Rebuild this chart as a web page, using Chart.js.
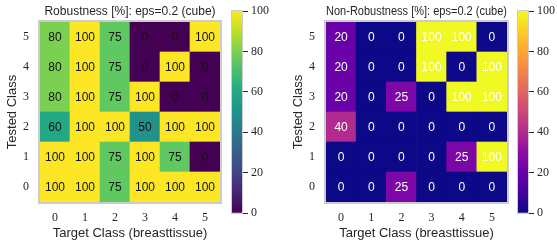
<!DOCTYPE html>
<html>
<head>
<meta charset="utf-8">
<script src="https://cdn.jsdelivr.net/npm/chart.js@4/dist/chart.umd.min.js"></script>
<style>
  body { margin: 0; background: #fff; }
  #wrap { position: relative; width: 557px; height: 241px; overflow: hidden; }
  canvas { position: absolute; top: 0; }
</style>
</head>
<body>
<div id="wrap">
  <canvas id="heatLeft" width="224" height="241" style="left:0px"></canvas>
  <canvas id="barLeft" width="56" height="241" style="left:224px"></canvas>
  <canvas id="heatRight" width="235" height="241" style="left:286px"></canvas>
  <canvas id="barRight" width="56" height="241" style="left:510px"></canvas>
</div>
<script>
// data, one row per tested class (0 at the bottom)
var targetClasses = ['0', '1', '2', '3', '4', '5'];
var testedClasses = ['0', '1', '2', '3', '4', '5'];
var colorbarTicks = [0, 20, 40, 60, 80, 100];

var robustness = [
    [100, 100, 75, 100, 100, 100],
    [100, 100, 75, 100, 75, 0],
    [60, 100, 100, 50, 100, 100],
    [80, 100, 75, 100, 0, 0],
    [80, 100, 75, 0, 100, 0],
    [80, 100, 75, 0, 0, 100]
];
var nonRobustness = [
    [0, 0, 25, 0, 0, 0],
    [0, 0, 0, 0, 25, 100],
    [40, 0, 0, 0, 0, 0],
    [20, 0, 25, 0, 100, 100],
    [20, 0, 0, 100, 0, 100],
    [20, 0, 0, 100, 100, 0]
];

var viridis = ['#440154', '#482475', '#414487', '#355f8d', '#2a788e', '#21918c',
    '#22a884', '#44bf70', '#7ad151', '#bddf26', '#fde725'];
var plasma = ['#0d0887', '#41049d', '#6a00a8', '#8f0da4', '#b12a90', '#cc4778',
    '#e16462', '#f2844b', '#fca636', '#fcce25', '#f0f921'];

var sansFont = "'Liberation Sans', sans-serif";
var serifFont = "'Liberation Serif', serif";
var textColor = '#262626';

function hexToRgb(h) {
    return [parseInt(h.substr(1, 2), 16), parseInt(h.substr(3, 2), 16), parseInt(h.substr(5, 2), 16)];
}

function cmap(stops, v) {
    var t = Math.max(0, Math.min(1, v / 100)) * (stops.length - 1);
    var i = Math.min(Math.floor(t), stops.length - 2);
    var f = t - i;
    var a = hexToRgb(stops[i]), b = hexToRgb(stops[i + 1]);
    var c = a.map(function (x, k) { return Math.round(x + (b[k] - x) * f); });
    return 'rgb(' + c.join(',') + ')';
}

// cell numbers and grey frame
var cellPlugin = {
    id: 'cells',
    afterDatasetsDraw: function (chart, args, opts) {
        var ctx = chart.ctx;
        ctx.save();
        ctx.font = '12px ' + sansFont;
        ctx.fillStyle = opts.color;
        ctx.textAlign = 'center';
        ctx.textBaseline = 'middle';
        chart.data.datasets.forEach(function (ds, i) {
            chart.getDatasetMeta(i).data.forEach(function (bar, j) {
                ctx.fillText(String(ds.values[j]), bar.x, (bar.y + bar.base) / 2 + 0.5);
            });
        });
        var a = chart.chartArea;
        ctx.strokeStyle = '#cccccc';
        ctx.lineWidth = opts.frame;
        ctx.strokeRect(a.left - opts.frame / 2, a.top - opts.frame / 2,
            a.right - a.left + opts.frame, a.bottom - a.top + opts.frame);
        ctx.restore();
    }
};

function dibujarHeatmap(id, rows, stops, title, textCol) {
    new Chart(document.getElementById(id), {
        type: 'bar',
        data: {
            labels: targetClasses,
            datasets: testedClasses.map(function (c, i) {
                return {
                    label: c,
                    values: rows[i],
                    data: targetClasses.map(function () { return 1; }),
                    backgroundColor: rows[i].map(function (v) { return cmap(stops, v); }),
                    barPercentage: 1,
                    categoryPercentage: 1,
                    borderWidth: 0
                };
            })
        },
        options: {
            responsive: false,
            animation: false,
            layout: { padding: { left: 0, right: id === 'heatLeft' ? 4 : 14, top: 0, bottom: 0 } },
            plugins: {
                legend: { display: false },
                tooltip: { enabled: false },
                title: {
                    display: true,
                    text: title,
                    fullSize: false,
                    color: textColor,
                    font: { family: sansFont, size: 12, weight: 'normal', lineHeight: '14px' },
                    padding: { top: 5, bottom: 3 }
                },
                cells: { color: textCol, frame: 2 }
            },
            scales: {
                x: {
                    stacked: true,
                    grid: { display: false, drawTicks: false },
                    border: { display: false },
                    ticks: { color: textColor, font: { family: serifFont, size: 12 }, padding: 9 },
                    title: {
                        display: true,
                        text: 'Target Class (breasttissue)',
                        color: textColor,
                        font: { family: sansFont, size: 13, lineHeight: 1.2 },
                        padding: { top: 0, bottom: 0 }
                    },
                    afterFit: function (scale) { scale.height = 39; }
                },
                y: {
                    stacked: true,
                    min: 0,
                    max: 6,
                    grid: { display: false, drawTicks: false },
                    border: { display: false },
                    afterBuildTicks: function (scale) {
                        scale.ticks = testedClasses.map(function (c, i) { return { value: i + 0.5 }; });
                    },
                    ticks: {
                        color: textColor,
                        font: { family: serifFont, size: 12 },
                        padding: 11,
                        callback: function (v) { return testedClasses[Math.floor(v)]; }
                    },
                    title: {
                        display: true,
                        text: 'Tested Class',
                        color: textColor,
                        font: { family: sansFont, size: 13, lineHeight: 1.2 },
                        padding: { top: 5, bottom: 0 }
                    },
                    afterFit: function (scale) { scale.width = 40; }
                }
            }
        },
        plugins: [cellPlugin]
    });
}

var outlinePlugin = {
    id: 'outline',
    afterDatasetsDraw: function (chart) {
        var a = chart.chartArea, ctx = chart.ctx;
        ctx.save();
        ctx.strokeStyle = '#cccccc';
        ctx.lineWidth = 1;
        ctx.strokeRect(a.left - 0.5, a.top - 0.5, a.right - a.left + 1, a.bottom - a.top + 1);
        ctx.restore();
    }
};

function dibujarColorbar(id, stops) {
    new Chart(document.getElementById(id), {
        type: 'bar',
        data: {
            labels: [''],
            datasets: [{
                data: [colorbarTicks[colorbarTicks.length - 1]],
                barPercentage: 1,
                categoryPercentage: 1,
                borderWidth: 0,
                backgroundColor: function (context) {
                    var area = context.chart.chartArea;
                    if (!area) return stops[0];
                    var g = context.chart.ctx.createLinearGradient(0, area.bottom, 0, area.top);
                    stops.forEach(function (c, k) { g.addColorStop(k / (stops.length - 1), c); });
                    return g;
                }
            }]
        },
        options: {
            responsive: false,
            animation: false,
            layout: { padding: { left: 8, right: 0, top: 11, bottom: 28 } },
            plugins: { legend: { display: false }, tooltip: { enabled: false } },
            scales: {
                x: { display: false },
                y: {
                    position: 'right',
                    min: colorbarTicks[0],
                    max: colorbarTicks[colorbarTicks.length - 1],
                    afterBuildTicks: function (scale) {
                        scale.ticks = colorbarTicks.map(function (v) { return { value: v }; });
                    },
                    grid: { drawOnChartArea: false, drawTicks: true, tickLength: 6, color: textColor, lineWidth: 1 },
                    border: { display: false },
                    ticks: { color: textColor, font: { family: serifFont, size: 12 }, padding: 3 },
                    afterFit: function (scale) { scale.width = 38; }
                }
            }
        },
        plugins: [outlinePlugin]
    });
}

dibujarHeatmap('heatLeft', robustness, viridis, 'Robustness [%]: eps=0.2 (cube)', '#111111');
dibujarColorbar('barLeft', viridis);
dibujarHeatmap('heatRight', nonRobustness, plasma, 'Non-Robustness [%]: eps=0.2 (cube)', '#ffffff');
dibujarColorbar('barRight', plasma);
</script>
</body>
</html>
